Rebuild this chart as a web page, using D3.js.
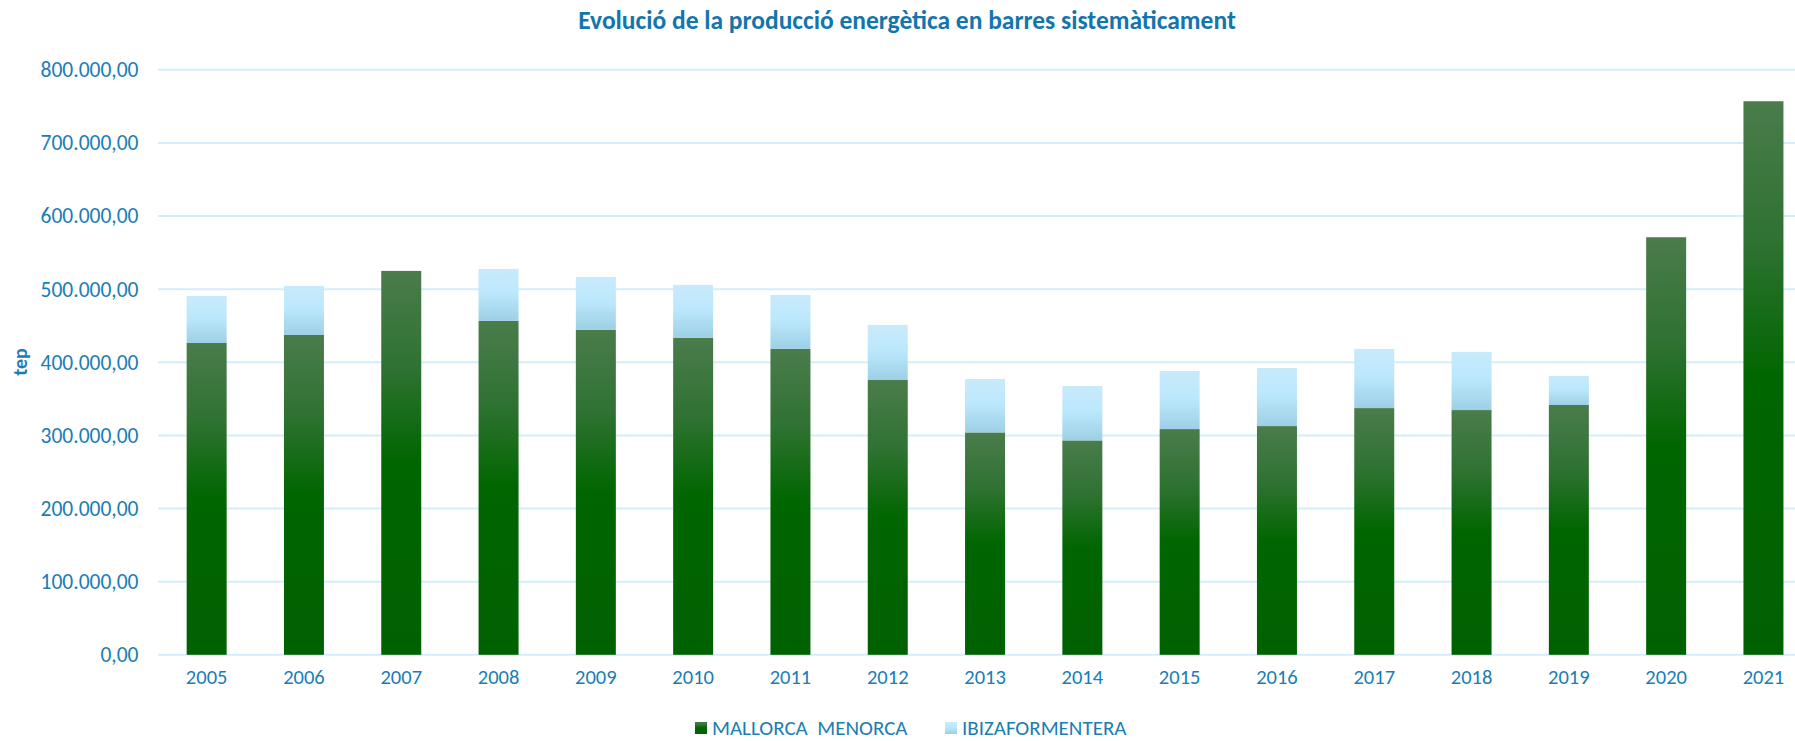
<!DOCTYPE html>
<html>
<head>
<meta charset="utf-8">
<script src="https://cdn.jsdelivr.net/npm/d3@7/dist/d3.min.js"></script>
<style>
  html, body { margin: 0; padding: 0; background: #ffffff; }
  svg { display: block; font-family: Carlito, Lato, "Open Sans", sans-serif; }
</style>
</head>
<body>
<svg id="chart" width="1795" height="741"></svg>
<script>
const years = ["2005","2006","2007","2008","2009","2010","2011","2012","2013","2014","2015","2016","2017","2018","2019","2020","2021"];
const mallorcaMenorca = [426400, 437400, 525000, 456600, 444300, 433300, 418300, 375800, 304100, 293200, 308700, 312800, 337400, 334700, 341600, 571000, 757000];
const ibizaFormentera = [64400, 67100, 0, 71100, 72500, 72600, 73900, 75300, 73100, 74400, 79400, 79400, 80900, 79500, 39700, 0, 0];
const yTicks = [0, 100000, 200000, 300000, 400000, 500000, 600000, 700000, 800000];
const seriesNames = ["MALLORCA  MENORCA", "IBIZAFORMENTERA"];
const titleText = "Evolució de la producció energètica en barres sistemàticament";
const yAxisTitle = "tep";

const W = 1795, H = 741;
const textColor = "#1a7db5";
const gridColor = "#d3eefa";

const svg = d3.select("#chart");
const defs = svg.append("defs");

const gGreen = defs.append("linearGradient").attr("id", "gGreen")
  .attr("x1", 0).attr("y1", 0).attr("x2", 0).attr("y2", 1);
gGreen.append("stop").attr("offset", "0%").attr("stop-color", "#4a7c4c");
gGreen.append("stop").attr("offset", "25%").attr("stop-color", "#2f7232");
gGreen.append("stop").attr("offset", "50%").attr("stop-color", "#006600");
gGreen.append("stop").attr("offset", "100%").attr("stop-color", "#006100");

const gBlue = defs.append("linearGradient").attr("id", "gBlue")
  .attr("x1", 0).attr("y1", 0).attr("x2", 0).attr("y2", 1);
gBlue.append("stop").attr("offset", "0%").attr("stop-color", "#c8eafb");
gBlue.append("stop").attr("offset", "45%").attr("stop-color", "#bce8fd");
gBlue.append("stop").attr("offset", "100%").attr("stop-color", "#9dd0e5");

const plotLeft = 158, step = 97.3;
const x = d3.scaleBand().domain(years)
  .range([plotLeft, plotLeft + step * years.length])
  .paddingInner(0.589).paddingOuter(0.589 / 2);
const y = d3.scaleLinear().domain([0, 800000]).range([654.8, 69.8]);

// gridlines
svg.append("g").selectAll("line").data(yTicks).join("line")
  .attr("x1", plotLeft).attr("x2", W)
  .attr("y1", d => y(d)).attr("y2", d => y(d))
  .attr("stroke", gridColor).attr("stroke-width", 2);

// y axis labels
const fmt = v => {
  const s = d3.format(",.2f")(v);
  return s.replace(/,/g, "#").replace(".", ",").replace(/#/g, ".");
};
const yAxis = d3.axisLeft(y).tickValues(yTicks).tickFormat(fmt).tickSize(0).tickPadding(0);
const yg = svg.append("g").attr("transform", "translate(138.5,0)").call(yAxis);
yg.select(".domain").remove();
yg.selectAll("text").attr("fill", textColor).style("font-size", "21.5px")
  .style("font-family", "Carlito, Lato, sans-serif");

// x axis labels
const xAxis = d3.axisBottom(x).tickSize(0).tickPadding(0);
const xg = svg.append("g").attr("transform", "translate(0,669)").call(xAxis);
xg.select(".domain").remove();
xg.selectAll("text").attr("fill", textColor).style("font-size", "20.5px")
  .style("font-family", "Carlito, Lato, sans-serif");

// bars
const bars = svg.append("g");
bars.selectAll("rect.mm").data(years).join("rect").attr("class", "mm")
  .attr("x", d => x(d)).attr("width", x.bandwidth())
  .attr("y", (d, i) => y(mallorcaMenorca[i]))
  .attr("height", (d, i) => y(0) - y(mallorcaMenorca[i]))
  .attr("fill", "url(#gGreen)");
bars.selectAll("rect.ib").data(years).join("rect").attr("class", "ib")
  .attr("x", d => x(d)).attr("width", x.bandwidth())
  .attr("y", (d, i) => y(mallorcaMenorca[i] + ibizaFormentera[i]))
  .attr("height", (d, i) => y(mallorcaMenorca[i]) - y(mallorcaMenorca[i] + ibizaFormentera[i]))
  .attr("fill", "url(#gBlue)");

// title
svg.append("text").attr("x", 907).attr("y", 29).attr("text-anchor", "middle")
  .attr("fill", "#1276ad").style("font-size", "25.5px").style("font-weight", "bold")
  .text(titleText);

// y axis title
svg.append("text").attr("transform", "translate(27,362) rotate(-90)")
  .attr("text-anchor", "middle").attr("fill", textColor)
  .style("font-size", "20px").style("font-weight", "bold").text(yAxisTitle);

// legend
const legend = svg.append("g");
const legendItems = [
  { name: seriesNames[0], fill: "url(#gGreen)", x: 695 },
  { name: seriesNames[1], fill: "url(#gBlue)", x: 945 }
];
legendItems.forEach(it => {
  legend.append("rect").attr("x", it.x).attr("y", 722).attr("width", 12).attr("height", 12).attr("fill", it.fill);
  legend.append("text").attr("x", it.x + 17).attr("y", 734.5).attr("fill", textColor)
    .style("font-size", "21px").attr("xml:space", "preserve").text(it.name);
});
</script>
</body>
</html>
